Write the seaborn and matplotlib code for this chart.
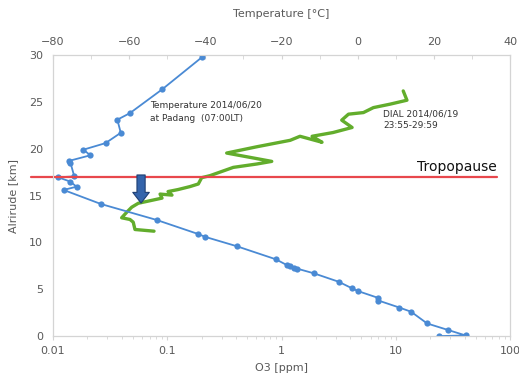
import matplotlib
matplotlib.use("Agg")
import matplotlib.pyplot as plt
import seaborn as sns
from matplotlib.ticker import FixedLocator, LogLocator, MultipleLocator, NullFormatter

# radiosonde temperature profile, Padang 2014/06/20 (top axis)
temp_c = [21.4, 28.3, 23.8, 18.2, 14.0, 10.9, 5.4, 5.2, 0.1, -1.5, -5.0, -11.5,
          -15.9, -16.7, -17.8, -18.7, -21.5, -31.8, -40.1, -41.9, -52.8, -67.4,
          -77.2, -73.8, -75.5, -78.6, -74.4, -75.4, -75.8, -70.2, -72.0, -66.2,
          -62.2, -63.1, -59.8, -51.3, -40.8]
temp_alt_km = [0.0, 0.07, 0.64, 1.35, 2.6, 3.05, 3.8, 4.1, 4.8, 5.1, 5.8, 6.7,
               7.2, 7.3, 7.45, 7.6, 8.2, 9.6, 10.6, 10.9, 12.4, 14.1,
               15.6, 15.95, 16.5, 16.95, 17.05, 18.5, 18.7, 19.3, 19.9, 20.6,
               21.7, 23.1, 23.8, 26.35, 29.8]

# DIAL ozone profile 2014/06/19 (bottom axis, log)
o3_ppm = [0.0766, 0.0522, 0.0504, 0.0472, 0.0399, 0.0442, 0.0489, 0.0558, 0.075,
          0.090, 0.0865, 0.110, 0.1016, 0.124, 0.158, 0.187, 0.200, 0.237,
          0.378, 0.607, 0.821, 0.331, 0.607, 1.19, 1.45, 2.26, 1.85, 2.82,
          4.14, 3.36, 3.85, 5.20, 6.36, 8.91, 12.5, 11.6]
o3_alt_km = [11.2, 11.38, 12.16, 12.45, 12.63, 13.22, 13.76, 14.18, 14.52,
             14.73, 15.16, 15.05, 15.43, 15.64, 15.96, 16.24, 16.91, 17.13,
             18.01, 18.37, 18.65, 19.54, 20.21, 20.9, 21.33, 20.69, 21.33, 21.73,
             22.27, 23.05, 23.69, 23.86, 24.39, 24.76, 25.18, 26.17]

tropopause_km = 17
arrow_o3_ppm = 0.059
arrow_top_km = 17.2
arrow_tip_km = 14.2

o3_ticks = [0.01, 0.1, 1, 10, 100]
o3_tick_labels = ["0.01", "0.1", "1", "10", "100"]
temp_ticks = [-80, -60, -40, -20, 0, 20, 40]
alt_ticks = [0, 5, 10, 15, 20, 25, 30]

blue = "#4a8ad4"
green = "#62ad2c"
red = "#e8474c"
spine_grey = "#d4d4d4"
label_grey = "#595959"

sns.set_style("white")
plt.rcParams["font.family"] = ["DejaVu Sans"]

fig = plt.figure(figsize=(5.19, 3.85), dpi=100)
ax = fig.add_axes([0.102, 0.127, 0.881, 0.730])
ax.set_xscale("log")
ax.set_xlim(0.01, 100)
ax.set_ylim(0, 30)

sns.lineplot(x=o3_ppm, y=o3_alt_km, ax=ax, sort=False, estimator=None,
             color=green, linewidth=2.4)

ax_t = ax.twiny()
ax_t.set_xlim(-80, 40)
sns.lineplot(x=temp_c, y=temp_alt_km, ax=ax_t, sort=False, estimator=None,
             color=blue, linewidth=1.3, marker="o", markersize=4.5,
             markeredgewidth=0)

# tropopause line, runs a bit past the left axis like the original
ax_t.axhline(tropopause_km, xmin=-0.048, xmax=0.972, color=red, lw=1.6,
             clip_on=False)
ax_t.text(0.971, 0.603, "Tropopause", transform=ax.transAxes, ha="right",
          va="center", fontsize=10, color="#111111")

ax_t.annotate("", xy=(arrow_o3_ppm, arrow_tip_km), xycoords=ax.transData,
              xytext=(arrow_o3_ppm, arrow_top_km), textcoords=ax.transData,
              arrowprops=dict(arrowstyle="simple,head_length=0.55,head_width=0.85,tail_width=0.42",
                              mutation_scale=14, fc="#3464ab", ec="#1f3f73",
                              lw=0.8, shrinkA=0, shrinkB=0))

ax_t.text(0.212, 0.798, "Temperature 2014/06/20\nat Padang  (07:00LT)",
          transform=ax.transAxes, ha="left", va="center", fontsize=6.5,
          color="#333333", linespacing=1.5)
ax_t.text(0.722, 0.77, "DIAL 2014/06/19\n23:55-29:59",
          transform=ax.transAxes, ha="left", va="center", fontsize=6.5,
          color="#333333", linespacing=1.45)

# axes, ticks, labels
ax.xaxis.set_major_locator(FixedLocator(o3_ticks))
ax.set_xticklabels(o3_tick_labels)
ax.xaxis.set_minor_locator(LogLocator(base=10, subs=range(2, 10)))
ax.xaxis.set_minor_formatter(NullFormatter())
ax.set_yticks(alt_ticks)
ax_t.set_xticks(temp_ticks)
ax_t.xaxis.set_minor_locator(MultipleLocator(10))

ax.set_xlabel("O3 [ppm]", fontsize=8, color=label_grey, labelpad=5)
ax.set_ylabel("Alrirude [km]", fontsize=8, color=label_grey, labelpad=8)
ax_t.set_xlabel("Temperature [°C]", fontsize=8, color=label_grey, labelpad=14)

for a in (ax, ax_t):
    for s in a.spines.values():
        s.set_color(spine_grey)
        s.set_linewidth(0.8)
ax.tick_params(axis="both", which="both", colors=spine_grey, labelcolor=label_grey,
               labelsize=8, direction="out")
ax.tick_params(axis="x", which="major", length=3, pad=4)
ax.tick_params(axis="x", which="minor", length=2)
ax.tick_params(axis="y", which="major", length=3, pad=4)
ax_t.tick_params(axis="x", which="both", colors=spine_grey, labelcolor=label_grey,
                 labelsize=8, direction="in", pad=6)
ax_t.tick_params(axis="x", which="major", length=3)
ax_t.tick_params(axis="x", which="minor", length=3)

fig.savefig("out.png", dpi=100)
